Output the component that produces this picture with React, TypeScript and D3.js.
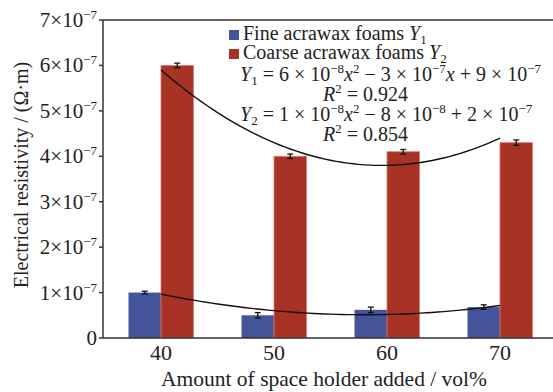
import * as d3 from 'd3';

const width = 553;
const height = 392;
const [mt, ml, mb] = [20, 103, 54];

const categories = ['40', '50', '60', '70'];
const xValues = [40, 50, 60, 70];
const fineValues = [1.0e-7, 0.5e-7, 0.62e-7, 0.68e-7];
const fineErrors = [0.03e-7, 0.06e-7, 0.06e-7, 0.05e-7];
const coarseValues = [6.0e-7, 4.0e-7, 4.1e-7, 4.3e-7];
const coarseErrors = [0.05e-7, 0.05e-7, 0.05e-7, 0.06e-7];
const yTicks = [0, 1, 2, 3, 4, 5, 6, 7];

const blue = '#44549b';
const red = '#a83224';
const font = '"Liberation Serif", "Times New Roman", serif';

type Seg = { t: string; it?: boolean; sup?: boolean; sub?: boolean };

// turns segments into tspans, undoing the baseline shift after each sup/sub
function rich(segs: Seg[]) {
    let shift = 0;
    return segs.map((s, i) => {
        const target = s.sup ? -8 : s.sub ? 4 : 0;
        const dy = target - shift;
        shift = target;
        return (
            <tspan
                key={i}
                dy={dy || undefined}
                fontStyle={s.it ? 'italic' : undefined}
                fontSize={s.sup || s.sub ? 13 : undefined}
            >
                {s.t}
            </tspan>
        );
    });
}

// least squares quadratic, used for the trend lines
function quadFit(xs: number[], ys: number[]) {
    const n = xs.length;
    const S = (f: (x: number, y: number) => number) => d3.sum(xs, (x, i) => f(x, ys[i]));
    const s0 = n, s1 = S((x) => x), s2 = S((x) => x * x), s3 = S((x) => x ** 3), s4 = S((x) => x ** 4);
    const t0 = S((_x, y) => y), t1 = S((x, y) => x * y), t2 = S((x, y) => x * x * y);
    const m = [
        [s4, s3, s2, t2],
        [s3, s2, s1, t1],
        [s2, s1, s0, t0],
    ];
    for (let c = 0; c < 3; c++) {
        for (let r = c + 1; r < 3; r++) {
            const f = m[r][c] / m[c][c];
            for (let k = c; k < 4; k++) m[r][k] -= f * m[c][k];
        }
    }
    const sol = [0, 0, 0];
    for (let r = 2; r >= 0; r--) {
        let v = m[r][3];
        for (let k = r + 1; k < 3; k++) v -= m[r][k] * sol[k];
        sol[r] = v / m[r][r];
    }
    return (x: number) => sol[0] * x * x + sol[1] * x + sol[2];
}

export default function App() {
    const x = d3.scaleBand().domain(categories).range([104.5, 556.5]).paddingInner(0.425).paddingOuter(0.2125);
    const sub = d3.scaleBand().domain(['fine', 'coarse']).range([0, x.bandwidth()]);
    const y = d3.scaleLinear().domain([0, 7e-7]).range([height - mb, mt]);
    const xc = d3
        .scaleLinear()
        .domain([40, 70])
        .range([x('40')! + x.bandwidth() / 2, x('70')! + x.bandwidth() / 2]);

    const curve = (f: (v: number) => number) =>
        d3
            .line<number>()
            .x((d) => xc(d))
            .y((d) => y(f(d)))(d3.range(40, 70.01, 0.5));
    const fineFit = quadFit(xValues, fineValues);
    const coarseFit = quadFit(xValues, coarseValues);

    const series = [
        { key: 'fine', vals: fineValues, errs: fineErrors, color: blue, stroke: 'none' },
        { key: 'coarse', vals: coarseValues, errs: coarseErrors, color: red, stroke: '#e07a70' },
    ];

    return (
        <svg
            width={width}
            height={height}
            style={{ position: 'absolute', left: 0, top: 0, background: '#fff' }}
            fontFamily={font}
        >
            {series.map((s) =>
                categories.map((c, i) => (
                    <rect
                        key={s.key + c}
                        x={x(c)! + sub(s.key)!}
                        y={y(s.vals[i])}
                        width={sub.bandwidth()}
                        height={y(0) - y(s.vals[i])}
                        fill={s.color}
                        stroke={s.stroke}
                        strokeWidth={0.8}
                    />
                ))
            )}
            {series.map((s) =>
                categories.map((c, i) => {
                    const cx = x(c)! + sub(s.key)! + sub.bandwidth() / 2;
                    const y0 = y(s.vals[i] - s.errs[i]);
                    const y1 = y(s.vals[i] + s.errs[i]);
                    return (
                        <g key={'e' + s.key + c} stroke="#111" strokeWidth={1.3}>
                            <line x1={cx} x2={cx} y1={y0} y2={y1} />
                            <line x1={cx - 3} x2={cx + 3} y1={y0} y2={y0} />
                            <line x1={cx - 3} x2={cx + 3} y1={y1} y2={y1} />
                        </g>
                    );
                })
            )}
            <path d={curve(fineFit)!} fill="none" stroke="#111" strokeWidth={1.4} />
            <path d={curve(coarseFit)!} fill="none" stroke="#111" strokeWidth={1.4} />

            {/* axes */}
            <g stroke="#333" strokeWidth={1.5}>
                <line x1={ml} x2={width} y1={mt} y2={mt} />
                <line x1={ml} x2={width} y1={y(0)} y2={y(0)} />
                <line x1={ml} x2={ml} y1={mt} y2={y(0)} />
                {yTicks.map((t) => (
                    <line key={t} x1={ml - 4} x2={ml} y1={y(t * 1e-7)} y2={y(t * 1e-7)} />
                ))}
            </g>
            {yTicks.map((t) => (
                <text key={t} x={ml - 6} y={y(t * 1e-7) + 7} textAnchor="end" fontSize={21} fill="#222">
                    {t === 0 ? '0' : rich([{ t: `${t}×10` }, { t: '−7', sup: true }])}
                </text>
            ))}
            {categories.map((c) => (
                <text key={c} x={x(c)! + x.bandwidth() / 2} y={360} textAnchor="middle" fontSize={22} fill="#222">
                    {c}
                </text>
            ))}
            <text x={324} y={386} textAnchor="middle" fontSize={21.5} fill="#222">
                Amount of space holder added / vol%
            </text>
            <text transform="translate(28, 175) rotate(-90)" textAnchor="middle" fontSize={20} fill="#222">
                Electrical resistivity / (Ω·m)
            </text>

            {/* legend and fit equations */}
            <rect x={229} y={30} width={10} height={10} fill={blue} />
            <rect x={229} y={49} width={10} height={10} fill={red} />
            <g fontSize={20} fill="#222">
                <text x={243} y={40}>
                    {rich([{ t: 'Fine acrawax foams ' }, { t: 'Y', it: true }, { t: '1', sub: true }])}
                </text>
                <text x={243} y={59}>
                    {rich([{ t: 'Coarse acrawax foams ' }, { t: 'Y', it: true }, { t: '2', sub: true }])}
                </text>
                <text x={240} y={81}>
                    {rich([
                        { t: 'Y', it: true },
                        { t: '1', sub: true },
                        { t: ' = 6 × 10' },
                        { t: '−8', sup: true },
                        { t: 'x', it: true },
                        { t: '2', sup: true },
                        { t: ' − 3 × 10' },
                        { t: '−7', sup: true },
                        { t: 'x', it: true },
                        { t: ' + 9 × 10' },
                        { t: '−7', sup: true },
                    ])}
                </text>
                <text x={323} y={101}>
                    {rich([{ t: 'R', it: true }, { t: '2', sup: true }, { t: ' = 0.924' }])}
                </text>
                <text x={240} y={121}>
                    {rich([
                        { t: 'Y', it: true },
                        { t: '2', sub: true },
                        { t: ' = 1 × 10' },
                        { t: '−8', sup: true },
                        { t: 'x', it: true },
                        { t: '2', sup: true },
                        { t: ' − 8 × 10' },
                        { t: '−8', sup: true },
                        { t: ' + 2 × 10' },
                        { t: '−7', sup: true },
                    ])}
                </text>
                <text x={323} y={141}>
                    {rich([{ t: 'R', it: true }, { t: '2', sup: true }, { t: ' = 0.854' }])}
                </text>
            </g>
        </svg>
    );
}
